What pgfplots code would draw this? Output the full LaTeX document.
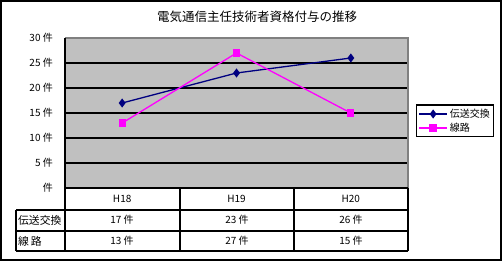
\documentclass[border=0pt]{standalone}
\usepackage{pgfplots}
\pgfplotsset{compat=1.18}
\usepackage{fontspec}
\setmainfont{Noto Sans CJK JP}
\definecolor{navyc}{RGB}{0,0,128}
\definecolor{magc}{RGB}{255,0,255}
\definecolor{plotbg}{RGB}{192,192,192}
\definecolor{edgec}{RGB}{128,128,128}
\begin{document}
\begin{tikzpicture}[x=1bp,y=1bp]
\useasboundingbox (0,0) rectangle (502,261);
\fill[white] (0,0) rectangle (502,261);
\node[font=\fontsize{12.5bp}{14bp}\selectfont] at (257,244) {電気通信主任技術者資格付与の推移};
\begin{axis}[
  at={(65bp,73bp)}, anchor=south west,
  scale only axis, width=343bp, height=150bp,
  xmin=-0.5, xmax=2.5, ymin=0, ymax=30,
  ytick={0,5,...,30},
  yticklabels={件,5 件,10 件,15 件,20 件,25 件,30 件},
  xtick={0,1,2}, xticklabels={H18,H19,H20},
  major tick length=0pt,
  axis line style={draw=none},
  axis background/.style={fill=plotbg},
  ymajorgrids, major grid style={black, line width=1.2bp},
  yticklabel style={inner sep=0pt, anchor=east, xshift=-12bp, font=\fontsize{10bp}{12bp}\selectfont},
  xticklabel style={inner sep=0pt, anchor=center, yshift=-11bp, font=\fontsize{10bp}{12bp}\selectfont},
  /pgf/number format/assume math mode=true,
  clip=false,
  legend style={at={(1.023,0.447)}, anchor=west, draw=black, line width=1.2bp,
    font=\fontsize{10bp}{12bp}\selectfont, inner sep=2bp, row sep=0bp, legend cell align=left},
  legend image code/.code={\draw[mark repeat=2,mark phase=2] plot coordinates {(0bp,0bp) (14bp,0bp) (28bp,0bp)};},
]
\addplot[navyc, line width=1.3bp, mark=diamond*, mark size=3.5bp, mark options={solid, fill=navyc}] coordinates {(0,17) (1,23) (2,26)};
\addlegendentry{伝送交換}
\addplot[magc, line width=1.3bp, mark=square*, mark size=3bp, mark options={solid, fill=magc}] coordinates {(0,13) (1,27) (2,15)};
\addlegendentry{線路}
\end{axis}
% axis frame
\draw[edgec, line width=1.5bp] (65,223) -- (408,223) -- (408,73);
\draw[black, line width=1.5bp] (65,73) -- (65,223);
% data table
\begin{scope}[line width=1.5bp]
\draw (65,73) -- (408,73);
\draw (16,51) -- (408,51);
\draw (16,30) -- (408,30);
\draw (16,10) -- (408,10);
\draw (16,51) -- (16,10);
\draw (65,73) -- (65,10);
\draw (180,73) -- (180,10);
\draw (294,73) -- (294,10);
\draw (408,73) -- (408,10);
\end{scope}
\begin{scope}[font=\fontsize{10bp}{12bp}\selectfont, inner sep=0pt]
\node[anchor=west] at (18,41) {\fontsize{10.8bp}{12bp}\selectfont 伝送交換};
\node[anchor=west] at (18,20) {\fontsize{10.8bp}{12bp}\selectfont 線\,路};
\node at (122,41) {17 件};
\node at (237,41) {23 件};
\node at (351,41) {26 件};
\node at (122,20) {13 件};
\node at (237,20) {27 件};
\node at (351,20) {15 件};
\end{scope}
\draw[line width=2bp] (1,1) rectangle (501,260);
\end{tikzpicture}
\end{document}
